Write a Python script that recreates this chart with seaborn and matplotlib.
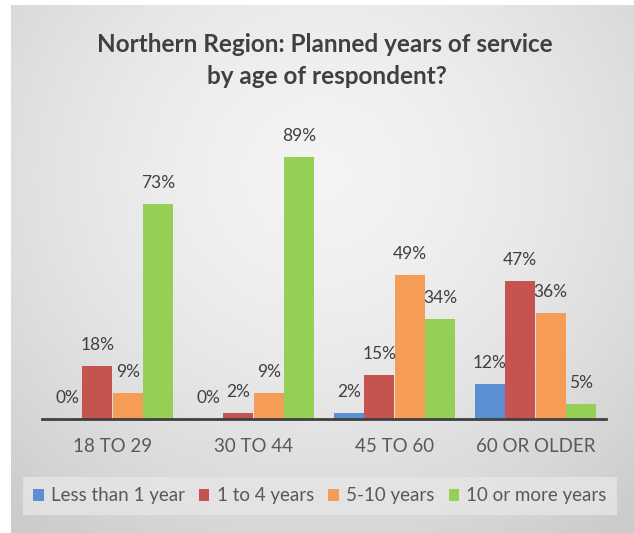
import numpy as np
import pandas as pd
import matplotlib
matplotlib.use("Agg")
import matplotlib.pyplot as plt
import seaborn as sns

# Survey results (percent of respondents)
age_groups = ["18 TO 29", "30 TO 44", "45 TO 60", "60 OR OLDER"]
tenure = ["Less than 1 year", "1 to 4 years", "5-10 years", "10 or more years"]
less_than_1 = [0, 0, 2, 12]
one_to_four = [18, 2, 15, 47]
five_to_ten = [9, 9, 49, 36]
ten_or_more = [73, 89, 34, 5]

colors = ["#5b8ed3", "#c55450", "#f59c56", "#95cf55"]
title_lines = ["Northern Region: Planned years of service", "by age of respondent?"]

sns.set_theme(style="white")
plt.rcParams["font.family"] = ["Lato", "DejaVu Sans"]

series = [less_than_1, one_to_four, five_to_ten, ten_or_more]
df = pd.DataFrame({
    "age": np.repeat(age_groups, len(tenure)),
    "tenure": tenure * len(age_groups),
    "pct": [series[j][i] for i in range(len(age_groups)) for j in range(len(tenure))],
})

W, H = 634, 533
fig = plt.figure(figsize=(W / 100, H / 100), dpi=100)
fig.patch.set_facecolor("white")

# Soft radial backdrop for the chart area
bg = fig.add_axes([11 / W, 0, (W - 11) / W, (H - 5) / H])
yy, xx = np.mgrid[0:1:300j, 0:1:300j]
r = np.sqrt(((xx - 0.5) / 0.75) ** 2 + ((yy - 0.32) / 0.85) ** 2)
r = np.clip(r, 0, 1)
light, dark = 0.955, 0.80
img = light - (light - dark) * r ** 1.6
bg.imshow(np.dstack([img, img, img]), extent=[0, 1, 0, 1], origin="upper", aspect="auto")
bg.set_xlim(0, 1)
bg.set_ylim(0, 1)
bg.axis("off")

ax = fig.add_axes([42 / W, (H - 419) / H, 564 / W, 294 / H])
ax.patch.set_alpha(0)
sns.barplot(data=df, x="age", y="pct", hue="tenure", hue_order=tenure, order=age_groups,
            palette=colors, saturation=1, width=0.86, gap=0.02,
            edgecolor="none", ax=ax, legend=True)

ax.set_ylim(0, 100)
ax.set_xlim(-0.5, 3.5)
ax.set_xlabel("")
ax.set_ylabel("")
ax.set_yticks([])
for s in ["top", "right", "left"]:
    ax.spines[s].set_visible(False)
ax.spines["bottom"].set_color("#404040")
ax.spines["bottom"].set_linewidth(2.0)
ax.tick_params(axis="x", length=0, pad=14, labelsize=13.5, labelcolor="#595959")

# Value labels above each bar
for container, vals in zip(ax.containers, series):
    for patch, v in zip(container.patches, vals):
        xc = patch.get_x() + patch.get_width() / 2
        ax.annotate(f"{v}%", (xc, v), xytext=(0, 11.5), textcoords="offset points",
                    ha="center", va="baseline", fontsize=12.5, color="#404040")

handles, labels = ax.get_legend_handles_labels()
ax.legend_.remove()
leg = fig.legend(handles, labels, loc="center", bbox_to_anchor=(320 / W, 1 - 496 / H),
                 ncol=4, frameon=True, fontsize=13.5, handlelength=0.55, handleheight=0.55,
                 handletextpad=0.4, columnspacing=0.75, borderpad=0.55, fancybox=False)
leg.get_frame().set_facecolor("#e6e6e6")
leg.get_frame().set_edgecolor("none")
for t in leg.get_texts():
    t.set_color("#595959")

fig.text(325 / W, 1 - 45 / H, title_lines[0], ha="center", va="center",
         fontsize=17.5, fontweight="bold", color="#404040")
fig.text(327 / W, 1 - 77 / H, title_lines[1], ha="center", va="center",
         fontsize=17.5, fontweight="bold", color="#404040")

fig.savefig("out.png", dpi=100)
